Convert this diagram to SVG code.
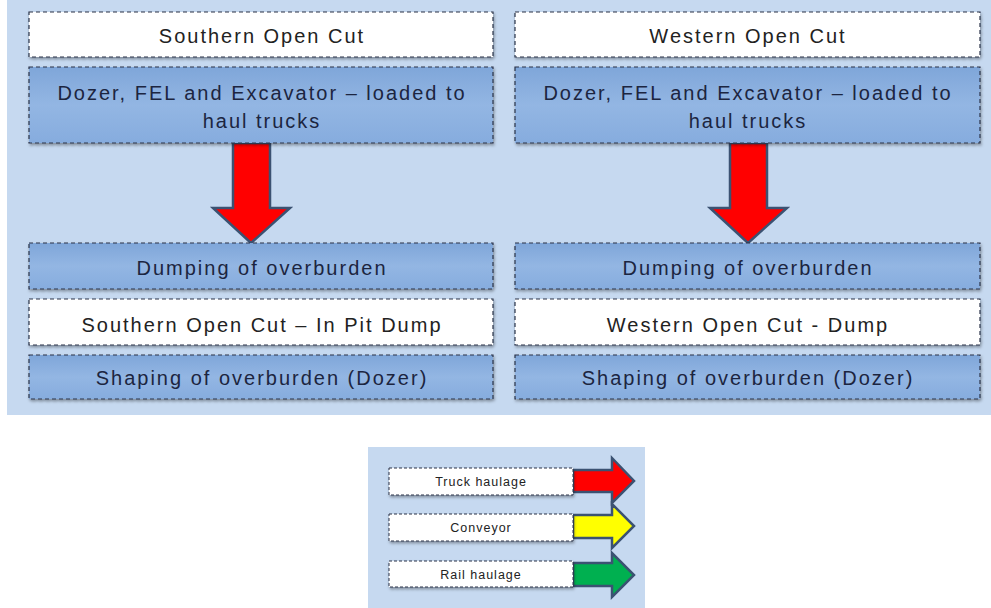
<svg xmlns="http://www.w3.org/2000/svg" width="991" height="608" viewBox="0 0 991 608">
<defs>
<filter id="sh" x="-5%" y="-20%" width="110%" height="150%">
<feDropShadow dx="1" dy="2" stdDeviation="1.5" flood-color="#000" flood-opacity="0.35"/>
</filter>
<linearGradient id="bl" x1="0" y1="0" x2="0" y2="1">
<stop offset="0" stop-color="#7fa6d9"/>
<stop offset="0.5" stop-color="#93b6e3"/>
<stop offset="1" stop-color="#86acde"/>
</linearGradient>
</defs>
<style>
.bg{fill:#c6d9f0}
.wb{fill:#ffffff;stroke:#2a3348;stroke-width:1.2;stroke-dasharray:4 3;filter:url(#sh)}
.bb{fill:url(#bl);stroke:#2a3348;stroke-width:1.2;stroke-dasharray:4 3;filter:url(#sh)}
.t{font-family:"Liberation Sans",Arial,sans-serif;font-size:20px;text-anchor:middle;fill:#222222;letter-spacing:2px}
.tb{fill:#1c2540}
.lt{font-family:"Liberation Sans",Arial,sans-serif;font-size:12.5px;text-anchor:middle;fill:#222222;letter-spacing:1px}
.lw{fill:#ffffff;stroke:#2a3348;stroke-width:1;stroke-dasharray:3 2;filter:url(#sh)}
.ar{stroke:#3b5272;stroke-width:2.5;stroke-linejoin:miter}
</style>
<rect class="bg" x="7" y="0" width="984" height="415"/>
<rect class="bg" x="368" y="447" width="277" height="161"/>

<g id="connectors">
<path class="ar" fill="#ff0000" d="M233,143 L270,143 L270,208 L290,208 L251,243 L213,208 L233,208 Z"/>
<path class="ar" fill="#ff0000" d="M730,143 L767,143 L767,208 L787,208 L748,243 L710,208 L730,208 Z"/>
</g>

<g id="southern-open-cut">
<rect class="wb" x="29" y="12" width="464" height="45"/>
<text class="t" x="262" y="43">Southern Open Cut</text>
</g>
<g id="southern-loading">
<rect class="bb" x="29" y="67" width="464" height="76"/>
<text class="t tb" x="262" y="100">Dozer, FEL and Excavator – loaded to</text>
<text class="t tb" x="262" y="128">haul trucks</text>
</g>
<g id="southern-dumping">
<rect class="bb" x="29" y="243" width="464" height="46"/>
<text class="t tb" x="262" y="275">Dumping of overburden</text>
</g>
<g id="southern-dump">
<rect class="wb" x="29" y="299" width="464" height="46"/>
<text class="t" x="262" y="332">Southern Open Cut – In Pit Dump</text>
</g>
<g id="southern-shaping">
<rect class="bb" x="29" y="355" width="464" height="44"/>
<text class="t tb" x="262" y="385">Shaping of overburden (Dozer)</text>
</g>

<g id="western-open-cut">
<rect class="wb" x="515" y="12" width="465" height="45"/>
<text class="t" x="748" y="43">Western Open Cut</text>
</g>
<g id="western-loading">
<rect class="bb" x="515" y="67" width="465" height="76"/>
<text class="t tb" x="748" y="100">Dozer, FEL and Excavator – loaded to</text>
<text class="t tb" x="748" y="128">haul trucks</text>
</g>
<g id="western-dumping">
<rect class="bb" x="515" y="243" width="465" height="46"/>
<text class="t tb" x="748" y="275">Dumping of overburden</text>
</g>
<g id="western-dump">
<rect class="wb" x="515" y="299" width="465" height="46"/>
<text class="t" x="748" y="332">Western Open Cut - Dump</text>
</g>
<g id="western-shaping">
<rect class="bb" x="515" y="355" width="465" height="44"/>
<text class="t tb" x="748" y="385">Shaping of overburden (Dozer)</text>
</g>

<g id="legend-truck">
<path class="ar" fill="#ff0000" stroke-width="2" d="M573,470 L612,470 L612,458 L634,481 L612,503 L612,492 L573,492 Z"/>
<rect class="lw" x="389" y="468" width="184" height="27"/>
<text class="lt" x="481" y="486">Truck haulage</text>
</g>
<g id="legend-conveyor">
<path class="ar" fill="#ffff00" stroke-width="2" d="M573,515 L612,515 L612,504 L634,526 L612,548 L612,538 L573,538 Z"/>
<rect class="lw" x="389" y="514" width="184" height="27"/>
<text class="lt" x="481" y="532">Conveyor</text>
</g>
<g id="legend-rail">
<path class="ar" fill="#00b050" stroke-width="2" d="M573,563 L612,563 L612,553 L634,575 L612,597 L612,586 L573,586 Z"/>
<rect class="lw" x="389" y="561" width="184" height="26"/>
<text class="lt" x="481" y="579">Rail haulage</text>
</g>
</svg>
